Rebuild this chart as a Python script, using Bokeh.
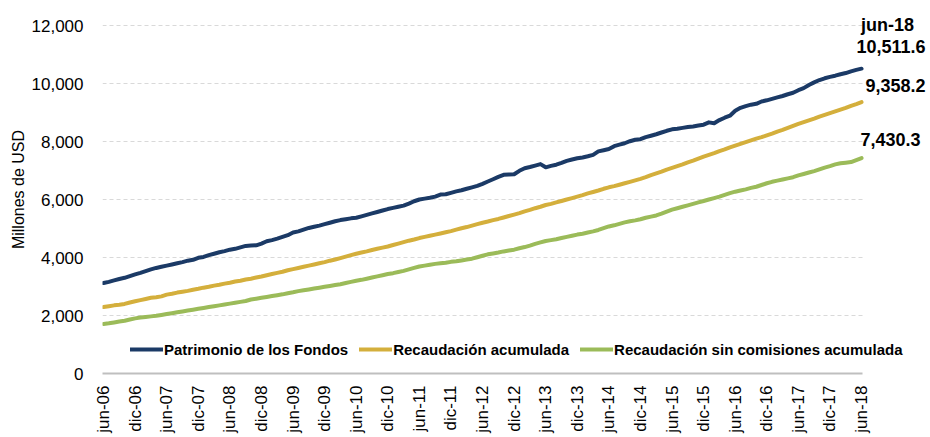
import math
from bokeh.plotting import figure
from bokeh.models import (Range1d, FixedTicker, NumeralTickFormatter, Legend, LegendItem, Label)
from bokeh.embed import file_html
from bokeh.resources import INLINE

# ---- data (millions of USD, monthly jun-06 .. jun-18) ----
tick_labels = ["jun-06", "dic-06", "jun-07", "dic-07", "jun-08", "dic-08", "jun-09", "dic-09",
               "jun-10", "dic-10", "jun-11", "dic-11", "jun-12", "dic-12", "jun-13", "dic-13",
               "jun-14", "dic-14", "jun-15", "dic-15", "jun-16", "dic-16", "jun-17", "dic-17", "jun-18"]

patrimonio = [
    3120, 3160, 3210, 3260, 3300, 3360, 3420, 3470, 3530, 3590, 3640, 3680, 3720, 3760, 3800, 3840,
    3890, 3920, 3990, 4020, 4080, 4130, 4180, 4220, 4270, 4300, 4350, 4400, 4410, 4420, 4480, 4560,
    4600, 4650, 4710, 4770, 4860,
    4900, 4960, 5020, 5060, 5100, 5150, 5200, 5250, 5290, 5320, 5350, 5370, 5420, 5470, 5520, 5570,
    5620, 5670, 5710, 5750, 5790, 5860, 5940, 6000, 6030, 6060, 6100, 6170, 6180, 6230, 6280, 6320,
    6370, 6420, 6470, 6540,
    6620, 6700, 6780, 6850, 6860, 6870, 6990, 7080, 7120, 7170, 7220, 7110, 7160, 7200, 7260, 7330,
    7380, 7420, 7450, 7490, 7540, 7660, 7700, 7740, 7840, 7890, 7940, 8010, 8060, 8080, 8150, 8200,
    8250, 8310, 8370, 8420,
    8440, 8470, 8500, 8520, 8550, 8580, 8660, 8630, 8740, 8820, 8890, 9060, 9160, 9220, 9270, 9300,
    9380, 9420, 9470, 9520, 9570, 9630, 9680, 9770, 9840, 9950, 10040, 10120, 10180, 10230, 10270,
    10320, 10360, 10420, 10470, 10511.6]

recaudacion = [
    2290, 2320, 2350, 2370, 2400, 2450, 2490,
    2530, 2570, 2610, 2630, 2660, 2720,
    2750, 2790, 2820, 2850, 2890, 2920,
    2960, 2990, 3030, 3060, 3100, 3130,
    3170, 3200, 3240, 3270, 3310, 3345,
    3390, 3430, 3470, 3510, 3560, 3600,
    3640, 3680, 3720, 3760, 3800, 3840,
    3890, 3930, 3980, 4030, 4080, 4130,
    4170, 4210, 4260, 4300, 4340, 4380,
    4430, 4480, 4530, 4580, 4620, 4670,
    4710, 4750, 4790, 4830, 4870, 4910,
    4960, 5010, 5050, 5100, 5150, 5200,
    5240, 5290, 5330, 5380, 5430, 5480,
    5530, 5590, 5640, 5700, 5750, 5810,
    5850, 5900, 5950, 6000, 6050, 6100,
    6150, 6210, 6260, 6310, 6370, 6420,
    6460, 6510, 6560, 6610, 6660, 6710,
    6770, 6840, 6900, 6960, 7030, 7090,
    7150, 7210, 7280, 7340, 7410, 7480,
    7540, 7600, 7670, 7730, 7800, 7860,
    7920, 7980, 8040, 8100, 8150, 8210,
    8270, 8340, 8400, 8470, 8540, 8610,
    8670, 8730, 8790, 8860, 8920, 8980,
    9040, 9100, 9160, 9230, 9290, 9358.2]

sin_comisiones = [
    1710, 1730, 1760, 1790, 1820, 1860, 1900,
    1930, 1950, 1970, 1990, 2020, 2050,
    2080, 2110, 2140, 2170, 2200, 2230,
    2260, 2290, 2320, 2350, 2380, 2410,
    2440, 2470, 2500, 2550, 2580, 2610,
    2640, 2670, 2700, 2730, 2770, 2800,
    2840, 2870, 2900, 2930, 2960, 2990,
    3020, 3050, 3080, 3120, 3160, 3200,
    3230, 3270, 3310, 3350, 3390, 3430,
    3460, 3500, 3540, 3590, 3640, 3690,
    3720, 3750, 3780, 3800, 3820, 3850,
    3870, 3900, 3930, 3960, 4010, 4060,
    4110, 4140, 4170, 4210, 4240, 4270,
    4320, 4360, 4410, 4470, 4520, 4570,
    4600, 4630, 4670, 4710, 4750, 4790,
    4820, 4860, 4900, 4950, 5010, 5070,
    5110, 5160, 5210, 5250, 5280, 5320,
    5370, 5410, 5450, 5510, 5580, 5650,
    5700, 5750, 5800, 5850, 5900, 5950,
    6000, 6050, 6100, 6160, 6220, 6270,
    6310, 6350, 6400, 6440, 6500, 6560,
    6610, 6650, 6690, 6730, 6770, 6830,
    6880, 6930, 6980, 7040, 7100, 7150,
    7210, 7250, 7270, 7290, 7360, 7430.3]

series_names = ["Patrimonio de los Fondos", "Recaudación acumulada",
                "Recaudación sin comisiones acumulada"]
y_ticks = [0, 2000, 4000, 6000, 8000, 10000, 12000]

months = list(range(len(patrimonio)))
tick_pos = list(range(0, len(patrimonio), 6))

FONT = "Liberation Sans"
colors = ["#1B3A66", "#D4AF3C", "#9BBB59"]

X0 = -0.2
X1 = months[-1] + 0.2          # end of the axis line / grid
XR = 157.1                     # extra room on the right for the end labels
YTOP = y_ticks[-1] + 690       # headroom above the last gridline for the date label

p = figure(width=930, height=437, output_backend="svg", toolbar_location=None,
           x_range=Range1d(X0, XR), y_range=Range1d(0, YTOP),
           min_border_left=102, min_border_right=0, min_border_top=5, min_border_bottom=64)
p.outline_line_color = None
p.background_fill_color = "white"
p.border_fill_color = "white"

# horizontal dashed grid, limited to the axis extent
grid_vals = y_ticks[1:]
p.segment(x0=[X0] * len(grid_vals), x1=[X1] * len(grid_vals), y0=grid_vals, y1=grid_vals,
          line_color="#D9D9D9", line_width=1, line_dash="4 3", level="underlay")

renderers = []
for ys, c in zip([patrimonio, recaudacion, sin_comisiones], colors):
    r = p.line(months, ys, line_color=c, line_width=4, line_join="round", line_cap="round")
    renderers.append(r)

# axes
p.xaxis.ticker = FixedTicker(ticks=tick_pos)
p.xaxis.bounds = (X0, X1)
p.xaxis.major_label_overrides = {pos: lab for pos, lab in zip(tick_pos, tick_labels)}
p.xaxis.major_label_orientation = math.pi / 2
p.xaxis.major_label_text_font = FONT
p.xaxis.major_label_text_font_size = "17px"
p.xaxis.major_label_text_color = "#000000"
p.xaxis.major_label_standoff = 12
p.xaxis.major_tick_out = 0
p.xaxis.minor_tick_out = 0
p.xaxis.axis_line_color = "#BFBFBF"
p.xaxis.axis_line_width = 2
p.xaxis.major_tick_line_color = None
p.xaxis.minor_tick_line_color = None

p.yaxis.ticker = FixedTicker(ticks=y_ticks)
p.yaxis.formatter = NumeralTickFormatter(format="0,0")
p.yaxis.major_label_text_font = FONT
p.yaxis.major_label_text_font_size = "17px"
p.yaxis.major_label_text_color = "#000000"
p.yaxis.major_label_standoff = 19
p.yaxis.major_tick_out = 0
p.yaxis.minor_tick_out = 0
p.yaxis.axis_line_color = None
p.yaxis.major_tick_line_color = None
p.yaxis.minor_tick_line_color = None
p.yaxis.axis_label = "Millones de USD"
p.yaxis.axis_label_text_font = FONT
p.yaxis.axis_label_text_font_size = "16px"
p.yaxis.axis_label_text_font_style = "normal"
p.yaxis.axis_label_text_color = "#000000"
p.yaxis.axis_label_standoff = 2

p.xgrid.grid_line_color = None
p.ygrid.grid_line_color = None

legend = Legend(items=[LegendItem(label=n, renderers=[r]) for n, r in zip(series_names, renderers)],
                orientation="horizontal", location=(28, 14),
                label_text_font=FONT, label_text_font_size="15px", label_text_font_style="bold",
                label_text_color="#000000",
                glyph_width=33, glyph_height=20, label_height=20, label_standoff=1, spacing=11,
                padding=0, margin=0, border_line_color=None, background_fill_alpha=0)
p.add_layout(legend, "center")

# end-point annotations
last = len(patrimonio) - 1
ann_style = dict(text_font=FONT, text_font_style="bold", text_font_size="18px",
                 text_color="#000000", text_baseline="middle")
p.add_layout(Label(x=months[last], y=patrimonio[last], text=tick_labels[-1],
                   x_offset=26, y_offset=44, text_align="center", **ann_style))
p.add_layout(Label(x=months[last], y=patrimonio[last], text=f"{patrimonio[last]:,.1f}",
                   x_offset=64, y_offset=22, text_align="right", **ann_style))
p.add_layout(Label(x=months[last], y=recaudacion[last], text=f"{recaudacion[last]:,.1f}",
                   x_offset=64, y_offset=17, text_align="right", **ann_style))
p.add_layout(Label(x=months[last], y=sin_comisiones[last], text=f"{sin_comisiones[last]:,.1f}",
                   x_offset=59, y_offset=19, text_align="right", **ann_style))

open("out.html", "w").write(file_html(p, INLINE))
